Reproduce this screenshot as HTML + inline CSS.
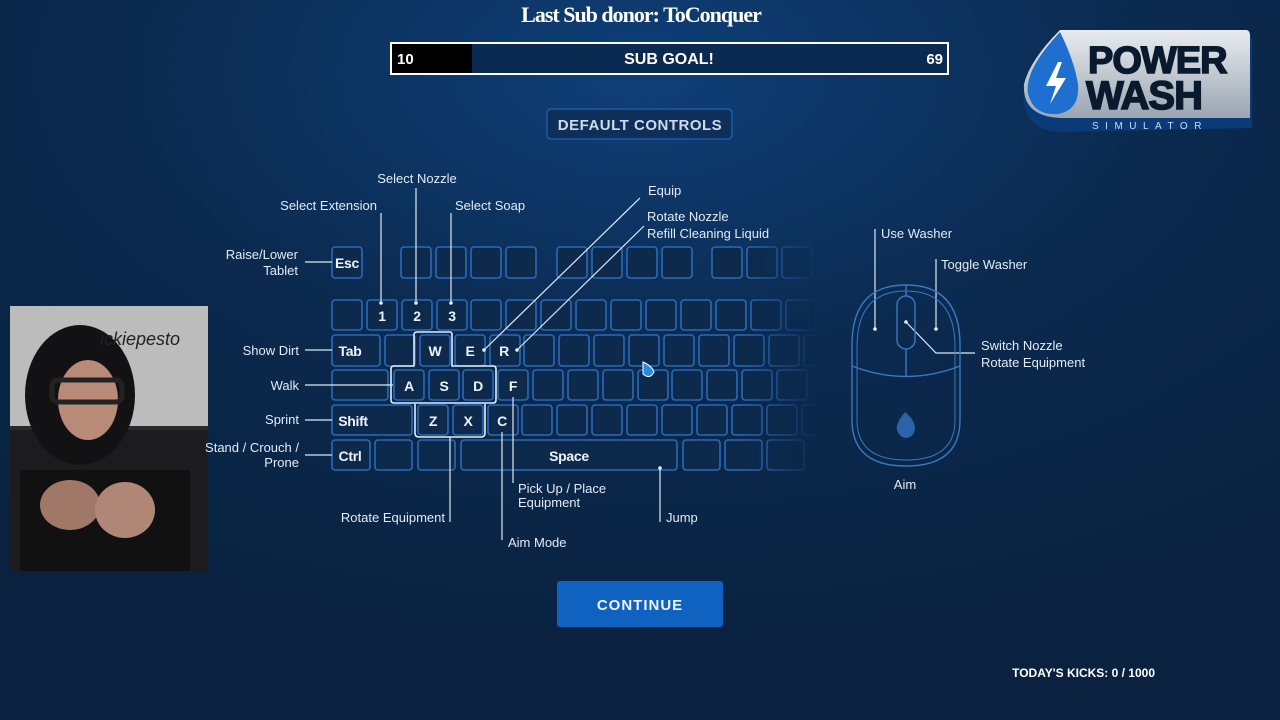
<!DOCTYPE html>
<html><head><meta charset="utf-8"><style>
html,body{margin:0;padding:0;width:1280px;height:720px;overflow:hidden;background:#0a2240}
svg{display:block}
text{font-family:"Liberation Sans",sans-serif}
.l{fill:#e3ebf5;font-size:13px}
.k{fill:#eef3fa;font-family:"Liberation Sans Narrow","Liberation Sans",sans-serif;font-weight:bold;font-size:14px;letter-spacing:-0.3px}
.ln{stroke:#dfe8f2;stroke-width:1.2;fill:none}
</style></head><body>
<svg width="1280" height="720" viewBox="0 0 1280 720" xmlns="http://www.w3.org/2000/svg">
<defs>
<radialGradient id="bg" cx="0.5" cy="0.1" r="0.8">
<stop offset="0" stop-color="#0f3f78"/><stop offset="0.5" stop-color="#0b2a4f"/><stop offset="1" stop-color="#0a2240"/>
</radialGradient>
<linearGradient id="fade" x1="0" x2="1"><stop offset="0" stop-color="#fff"/><stop offset="0.85" stop-color="#fff"/><stop offset="1" stop-color="#000"/></linearGradient>
<mask id="m"><rect x="320" y="240" width="500" height="240" fill="url(#fade)"/></mask>
<linearGradient id="logo" x1="0" y1="0" x2="0" y2="1"><stop offset="0" stop-color="#e8ecf0"/><stop offset="1" stop-color="#9aa5b1"/></linearGradient>
</defs>
<rect width="1280" height="720" fill="url(#bg)"/>

<!-- header -->
<text x="641" y="22" text-anchor="middle" font-weight="bold" font-size="22" fill="#fff" style="font-family:'Liberation Serif',serif" letter-spacing="-1">Last Sub donor: ToConquer</text>
<rect x="391" y="43" width="557" height="31" fill="#0b2a52" stroke="#fff" stroke-width="2"/>
<rect x="392" y="44" width="80" height="29" fill="#000"/>
<text x="397" y="64" font-weight="bold" font-size="15" fill="#fff">10</text>
<text x="669" y="64" text-anchor="middle" font-weight="bold" font-size="16" fill="#fff">SUB GOAL!</text>
<text x="943" y="64" text-anchor="end" font-weight="bold" font-size="15" fill="#fff">69</text>

<rect x="547" y="109" width="185" height="30" rx="4" fill="#0d2f5a" stroke="#1f5aa6" stroke-width="1.5"/>
<text x="640" y="130" text-anchor="middle" class="k" style="fill:#cfdbe8;font-size:15px;letter-spacing:0.5px">DEFAULT CONTROLS</text>

<!-- logo -->
<g>
<path d="M1055 40 L1245 34 Q1252 34 1252 42 L1252 128 L1062 132 Q1030 132 1024 105 Q1020 80 1055 40Z" fill="#0a3a78"/>
<path d="M1060 30 L1246 30 Q1250 30 1250 36 L1250 118 L1060 118 Q1022 116 1024 84 Q1030 60 1060 30Z" fill="url(#logo)"/>
<path d="M1060 32 Q1024 70 1028 94 Q1034 116 1058 114 Q1080 110 1078 84 Q1074 60 1060 32Z" fill="#1e6fd0"/>
<path d="M1058 62 L1046 86 L1056 86 L1050 104 L1066 78 L1056 78 L1062 62Z" fill="#fff"/>
<text x="1088" y="73" font-weight="bold" font-size="38" fill="#0a1a2e" stroke="#0a1a2e" stroke-width="1.5" letter-spacing="-1">POWER</text>
<text x="1086" y="109" font-weight="bold" font-size="40" fill="#0a1a2e" stroke="#0a1a2e" stroke-width="1.5" letter-spacing="-1">WASH</text>
<text x="1092" y="129" font-size="10" fill="#cde" letter-spacing="6.5">SIMULATOR</text>
</g>

<!-- webcam -->
<rect x="10" y="306" width="198" height="265" fill="#2a2a2c"/>
<rect x="10" y="306" width="198" height="120" fill="#bdbcbc"/>
<rect x="10" y="430" width="198" height="141" fill="#1c1c1e"/>
<ellipse cx="80" cy="395" rx="55" ry="70" fill="#121214"/>
<ellipse cx="88" cy="400" rx="30" ry="40" fill="#b88a78"/>
<rect x="52" y="380" width="70" height="22" rx="6" fill="none" stroke="#222" stroke-width="5"/>
<rect x="20" y="470" width="170" height="101" fill="#111"/>
<ellipse cx="70" cy="505" rx="30" ry="25" fill="#a07868"/>
<ellipse cx="125" cy="510" rx="30" ry="28" fill="#b08676"/>
<text x="140" y="345" font-size="18" font-style="italic" fill="#222" text-anchor="middle">ickiepesto</text>

<!-- keyboard -->
<g mask="url(#m)" fill="#0d2a4c" stroke="#2b69b8" stroke-width="1.6">
<rect x="332" y="247" width="30" height="31" rx="3"/>
<rect x="401" y="247" width="30" height="31" rx="3"/><rect x="436" y="247" width="30" height="31" rx="3"/><rect x="471" y="247" width="30" height="31" rx="3"/><rect x="506" y="247" width="30" height="31" rx="3"/>
<rect x="557" y="247" width="30" height="31" rx="3"/><rect x="592" y="247" width="30" height="31" rx="3"/><rect x="627" y="247" width="30" height="31" rx="3"/><rect x="662" y="247" width="30" height="31" rx="3"/>
<rect x="712" y="247" width="30" height="31" rx="3"/><rect x="747" y="247" width="30" height="31" rx="3"/><rect x="782" y="247" width="30" height="31" rx="3"/>
<rect x="332" y="300" width="30" height="30" rx="3"/><rect x="367" y="300" width="30" height="30" rx="3"/><rect x="402" y="300" width="30" height="30" rx="3"/><rect x="437" y="300" width="30" height="30" rx="3"/><rect x="471" y="300" width="30" height="30" rx="3"/><rect x="506" y="300" width="30" height="30" rx="3"/><rect x="541" y="300" width="30" height="30" rx="3"/><rect x="576" y="300" width="30" height="30" rx="3"/><rect x="611" y="300" width="30" height="30" rx="3"/><rect x="646" y="300" width="30" height="30" rx="3"/><rect x="681" y="300" width="30" height="30" rx="3"/><rect x="716" y="300" width="30" height="30" rx="3"/><rect x="751" y="300" width="30" height="30" rx="3"/><rect x="786" y="300" width="30" height="30" rx="3"/>
<rect x="332" y="335" width="48" height="31" rx="3"/><rect x="385" y="335" width="30" height="31" rx="3"/><rect x="420" y="335" width="30" height="31" rx="3"/><rect x="455" y="335" width="30" height="31" rx="3"/><rect x="490" y="335" width="30" height="31" rx="3"/><rect x="524" y="335" width="30" height="31" rx="3"/><rect x="559" y="335" width="30" height="31" rx="3"/><rect x="594" y="335" width="30" height="31" rx="3"/><rect x="629" y="335" width="30" height="31" rx="3"/><rect x="664" y="335" width="30" height="31" rx="3"/><rect x="699" y="335" width="30" height="31" rx="3"/><rect x="734" y="335" width="30" height="31" rx="3"/><rect x="769" y="335" width="30" height="31" rx="3"/><rect x="804" y="335" width="30" height="31" rx="3"/>
<rect x="332" y="370" width="56" height="30" rx="3"/><rect x="394" y="370" width="30" height="30" rx="3"/><rect x="429" y="370" width="30" height="30" rx="3"/><rect x="463" y="370" width="30" height="30" rx="3"/><rect x="498" y="370" width="30" height="30" rx="3"/><rect x="533" y="370" width="30" height="30" rx="3"/><rect x="568" y="370" width="30" height="30" rx="3"/><rect x="603" y="370" width="30" height="30" rx="3"/><rect x="638" y="370" width="30" height="30" rx="3"/><rect x="672" y="370" width="30" height="30" rx="3"/><rect x="707" y="370" width="30" height="30" rx="3"/><rect x="742" y="370" width="30" height="30" rx="3"/><rect x="777" y="370" width="30" height="30" rx="3"/>
<rect x="332" y="405" width="80" height="30" rx="3"/><rect x="418" y="405" width="30" height="30" rx="3"/><rect x="453" y="405" width="30" height="30" rx="3"/><rect x="488" y="405" width="30" height="30" rx="3"/><rect x="522" y="405" width="30" height="30" rx="3"/><rect x="557" y="405" width="30" height="30" rx="3"/><rect x="592" y="405" width="30" height="30" rx="3"/><rect x="627" y="405" width="30" height="30" rx="3"/><rect x="662" y="405" width="30" height="30" rx="3"/><rect x="697" y="405" width="30" height="30" rx="3"/><rect x="732" y="405" width="30" height="30" rx="3"/><rect x="767" y="405" width="30" height="30" rx="3"/><rect x="802" y="405" width="30" height="30" rx="3"/>
<rect x="332" y="440" width="38" height="30" rx="3"/><rect x="375" y="440" width="37" height="30" rx="3"/><rect x="418" y="440" width="37" height="30" rx="3"/><rect x="461" y="440" width="216" height="30" rx="3"/><rect x="683" y="440" width="37" height="30" rx="3"/><rect x="725" y="440" width="37" height="30" rx="3"/><rect x="767" y="440" width="37" height="30" rx="3"/>
</g>
<path d="M417 332 H450 Q452 332 452 335 V366 H493 Q496 366 496 369 V400 Q496 403 493 403 H394 Q391 403 391 400 V369 Q391 366 394 366 H414 V335 Q414 332 417 332Z" fill="none" stroke="#e6edf5" stroke-width="1.6"/>
<path d="M415 404 V433 Q415 437 419 437 H481 Q485 437 485 433 V404" fill="none" stroke="#e6edf5" stroke-width="1.6"/>

<g text-anchor="middle">
<text x="347" y="268" class="k">Esc</text>
<text x="382" y="321" class="k">1</text><text x="417" y="321" class="k">2</text><text x="452" y="321" class="k">3</text>
<text x="350" y="356" class="k">Tab</text><text x="435" y="356" class="k">W</text><text x="470" y="356" class="k">E</text><text x="504" y="356" class="k">R</text>
<text x="409" y="391" class="k">A</text><text x="444" y="391" class="k">S</text><text x="478" y="391" class="k">D</text><text x="513" y="391" class="k">F</text>
<text x="353" y="426" class="k">Shift</text><text x="433" y="426" class="k">Z</text><text x="468" y="426" class="k">X</text><text x="502" y="426" class="k">C</text>
<text x="350" y="461" class="k">Ctrl</text><text x="569" y="461" class="k">Space</text>
</g>

<g class="ln">
<line x1="381" y1="213" x2="381" y2="303"/><line x1="416" y1="188" x2="416" y2="303"/><line x1="451" y1="213" x2="451" y2="303"/>
<line x1="640" y1="198" x2="484" y2="350"/><line x1="644" y1="226" x2="517" y2="350"/>
<line x1="305" y1="262" x2="332" y2="262"/><line x1="305" y1="350" x2="332" y2="350"/><line x1="305" y1="385" x2="393" y2="385"/><line x1="305" y1="420" x2="332" y2="420"/><line x1="305" y1="455" x2="332" y2="455"/>
<line x1="450" y1="437" x2="450" y2="522"/><line x1="502" y1="432" x2="502" y2="540"/><line x1="513" y1="397" x2="513" y2="483"/><line x1="660" y1="468" x2="660" y2="522"/>
<line x1="875" y1="229" x2="875" y2="330"/><line x1="936" y1="259" x2="936" y2="330"/>
<polyline points="906,322 936,353 975,353"/>
</g>
<g fill="#e6edf5">
<circle cx="381" cy="303" r="1.8"/><circle cx="416" cy="303" r="1.8"/><circle cx="451" cy="303" r="1.8"/><circle cx="484" cy="350" r="1.8"/><circle cx="517" cy="350" r="1.8"/><circle cx="660" cy="468" r="1.8"/><circle cx="875" cy="329" r="1.8"/><circle cx="936" cy="329" r="1.8"/><circle cx="906" cy="322" r="1.8"/>
</g>

<g>
<text x="417" y="183" text-anchor="middle" class="l">Select Nozzle</text>
<text x="377" y="210" text-anchor="end" class="l">Select Extension</text>
<text x="455" y="210" class="l">Select Soap</text>
<text x="648" y="195" class="l">Equip</text>
<text x="647" y="221" class="l">Rotate Nozzle</text>
<text x="647" y="238" class="l">Refill Cleaning Liquid</text>
<text x="298" y="259" text-anchor="end" class="l">Raise/Lower</text>
<text x="298" y="275" text-anchor="end" class="l">Tablet</text>
<text x="299" y="355" text-anchor="end" class="l">Show Dirt</text>
<text x="299" y="390" text-anchor="end" class="l">Walk</text>
<text x="299" y="424" text-anchor="end" class="l">Sprint</text>
<text x="299" y="452" text-anchor="end" class="l">Stand / Crouch /</text>
<text x="299" y="467" text-anchor="end" class="l">Prone</text>
<text x="445" y="522" text-anchor="end" class="l">Rotate Equipment</text>
<text x="518" y="493" class="l">Pick Up / Place</text>
<text x="518" y="507" class="l">Equipment</text>
<text x="508" y="547" class="l">Aim Mode</text>
<text x="666" y="522" class="l">Jump</text>
<text x="881" y="238" class="l">Use Washer</text>
<text x="941" y="269" class="l">Toggle Washer</text>
<text x="981" y="350" class="l">Switch Nozzle</text>
<text x="981" y="367" class="l">Rotate Equipment</text>
<text x="905" y="489" text-anchor="middle" class="l">Aim</text>
</g>

<g fill="none" stroke="#3a78c0" stroke-width="1.4">
<path d="M906 285 Q960 285 960 345 L960 420 Q960 466 906 466 Q852 466 852 420 L852 345 Q852 285 906 285Z"/>
<path d="M906 291 Q955 291 955 347 L955 420 Q955 460 906 460 Q857 460 857 420 L857 347 Q857 291 906 291Z" stroke-width="1"/>
<path d="M852 366 Q906 387 960 366"/>
<line x1="906" y1="285" x2="906" y2="296"/><line x1="906" y1="349" x2="906" y2="377"/>
<rect x="897" y="296" width="18" height="53" rx="9"/>
</g>
<path d="M905 412 Q895 424 897 430 Q900 438 906 438 Q914 437 915 429 Q915 420 905 412Z" fill="#2a63a8"/>

<path d="M643 362 L643 374 Q650 380 654 372 Q652 366 643 362Z" fill="#2a8ae0" stroke="#fff" stroke-width="1"/>

<rect x="557" y="581" width="166" height="46" rx="3" fill="#1062c0"/>
<text x="640" y="610" text-anchor="middle" class="k" style="font-size:15px;letter-spacing:1px">CONTINUE</text>

<text x="1155" y="677" text-anchor="end" font-weight="bold" font-size="12" fill="#fff">TODAY'S KICKS: 0 / 1000</text>
</svg>
</body></html>
